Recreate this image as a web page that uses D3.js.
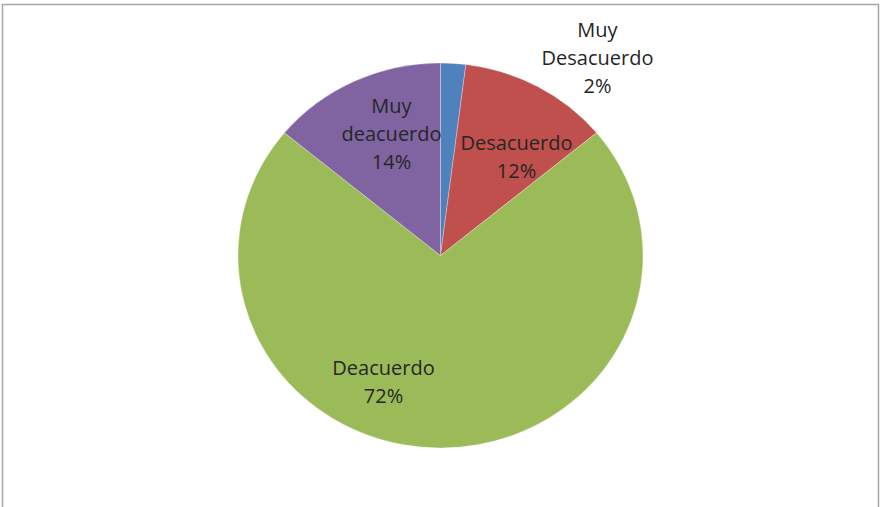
<!DOCTYPE html>
<html>
<head>
<meta charset="utf-8">
<script src="https://cdn.jsdelivr.net/npm/d3@7"></script>
<style>
  html, body { margin: 0; padding: 0; background: #fff; }
  svg { display: block; }
</style>
</head>
<body>
<svg id="chart" width="880" height="507"></svg>
<script>
// Survey answers, clockwise from twelve o'clock
const categories = ["Muy Desacuerdo", "Desacuerdo", "Deacuerdo", "Muy deacuerdo"];
const values = [2, 12, 72, 14];
const labelLines = [
  ["Muy", "Desacuerdo", "2%"],
  ["Desacuerdo", "12%"],
  ["Deacuerdo", "72%"],
  ["Muy", "deacuerdo", "14%"]
];
const colors = ["#4F81BD", "#C0504D", "#9BBB59", "#8064A2"];

const svg = d3.select("#chart");

// Chart frame
svg.append("rect")
  .attr("x", 2.5).attr("y", 4.5)
  .attr("width", 876).attr("height", 520)
  .attr("fill", "none")
  .attr("stroke", "#a6a6a6")
  .attr("stroke-width", 1.5);

const cx = 440.5, cy = 255.5;
const rx = 202.5, ry = 192.5;

const pie = d3.pie().sort(null).value(d => d.value);
const arcs = pie(categories.map((c, i) => ({ name: c, value: values[i], color: colors[i], lines: labelLines[i] })));

const arc = d3.arc().innerRadius(0).outerRadius(rx);

// Pie drawn as a circle, squashed vertically into the plot's ellipse
const pieG = svg.append("g")
  .attr("transform", `translate(${cx},${cy}) scale(1,${ry / rx})`);

pieG.selectAll("path")
  .data(arcs)
  .join("path")
  .attr("d", arc)
  .attr("fill", d => d.data.color)
  .attr("stroke", "rgba(255,255,255,0.5)")
  .attr("stroke-width", 0.6);

// Label block centres, relative to the pie centre (same order as categories)
const labelOffsets = [[157, -198], [76, -99], [-57, 126], [-49, -122]];

const labelG = svg.append("g").attr("transform", `translate(${cx},${cy})`);
const lineH = 28;

arcs.forEach((d, i) => {
  const [x, y] = labelOffsets[i];
  const n = d.data.lines.length;
  const t = labelG.append("text")
    .attr("text-anchor", "middle")
    .attr("font-family", "'Open Sans', Lato, sans-serif")
    .attr("font-size", 20)
    .attr("fill", "#262626");
  d.data.lines.forEach((ln, j) => {
    t.append("tspan")
      .attr("x", x)
      .attr("y", y + (j - (n - 1) / 2) * lineH + 7)
      .text(ln);
  });
});
</script>
</body>
</html>
